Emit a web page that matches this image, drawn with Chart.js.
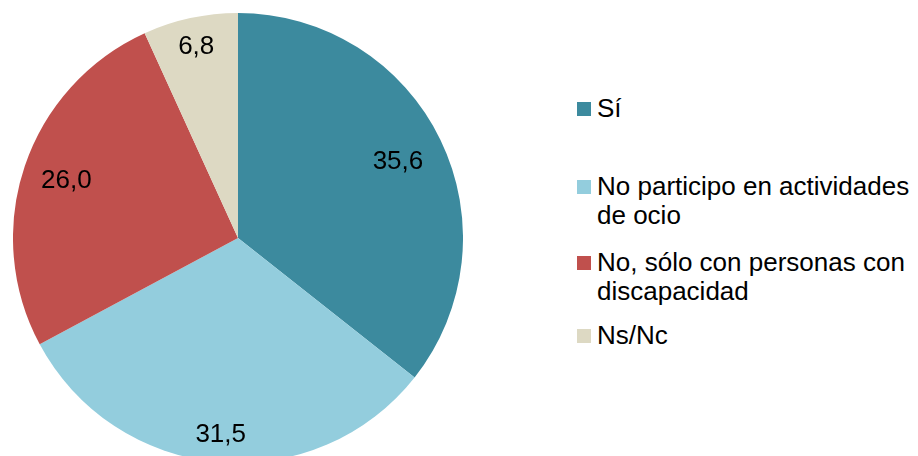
<!DOCTYPE html>
<html>
<head>
<meta charset="utf-8">
<script src="https://cdn.jsdelivr.net/npm/chart.js@4/dist/chart.umd.min.js"></script>
<style>
  html, body { margin: 0; padding: 0; background: #fff; overflow: hidden; }
  body { width: 918px; height: 456px; position: relative; font-family: "Liberation Sans", Arial, sans-serif; }
  #pie { position: absolute; left: 13px; top: 13px; }
  .leg { position: absolute; left: 597px; width: 321px; font-size: 26px; line-height: 29px; color: #000; }
  .leg .box { position: absolute; left: -20px; top: 8px; width: 14px; height: 14px; }
</style>
</head>
<body>
<canvas id="pie" width="450" height="450"></canvas>
<div id="legend"></div>
<script>
// data
var labels = ['Sí', 'No participo en actividades de ocio', 'No, sólo con personas con discapacidad', 'Ns/Nc'];
var values = [35.6, 31.5, 26.0, 6.8];
var colors = ['#3C8A9E', '#93CDDD', '#C0504D', '#DDD9C3'];

// where each value label sits, as a share of the radius
var labelRadius = [0.79, 0.875, 0.805, 0.875];
var legendTops = [94, 172, 248, 321];

var valueLabels = {
    id: 'valueLabels',
    afterDatasetsDraw: function (chart) {
        var ctx = chart.ctx;
        var arcs = chart.getDatasetMeta(0).data;
        ctx.save();
        ctx.font = '26px "Liberation Sans", Arial, sans-serif';
        ctx.fillStyle = '#000';
        ctx.textAlign = 'center';
        ctx.textBaseline = 'middle';
        arcs.forEach(function (arc, i) {
            var mid = (arc.startAngle + arc.endAngle) / 2;
            var r = arc.outerRadius * labelRadius[i];
            var txt = values[i].toFixed(1).replace('.', ',');
            ctx.fillText(txt, arc.x + Math.cos(mid) * r, arc.y + Math.sin(mid) * r + 1);
        });
        ctx.restore();
    }
};

new Chart(document.getElementById('pie').getContext('2d'), {
    type: 'pie',
    data: {
        labels: labels,
        datasets: [{
            data: values,
            backgroundColor: colors,
            borderWidth: 0
        }]
    },
    options: {
        responsive: false,
        animation: false,
        layout: { padding: 0 },
        plugins: {
            legend: { display: false },
            tooltip: { enabled: false }
        }
    },
    plugins: [valueLabels]
});

var legend = document.getElementById('legend');
for (var i = 0; i < labels.length; i++) {
    var item = document.createElement('div');
    item.className = 'leg';
    item.style.top = legendTops[i] + 'px';
    var box = document.createElement('span');
    box.className = 'box';
    box.style.background = colors[i];
    item.appendChild(box);
    item.appendChild(document.createTextNode(labels[i]));
    legend.appendChild(item);
}
</script>
</body>
</html>
